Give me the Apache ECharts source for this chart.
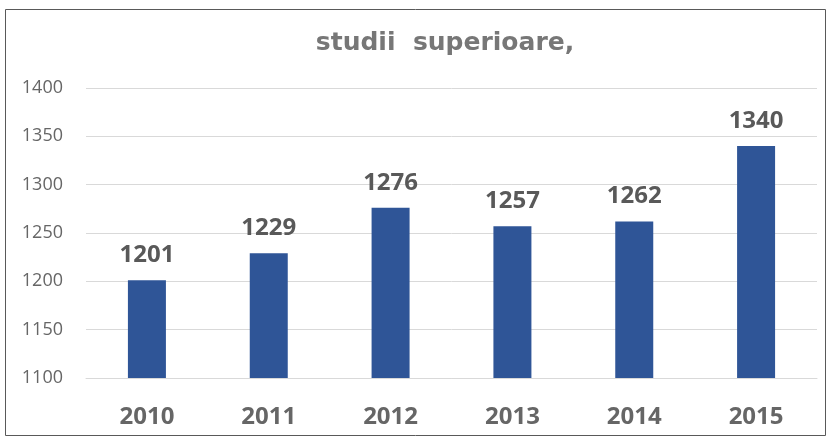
<!DOCTYPE html>
<html><head><meta charset="utf-8">
<script src="https://cdn.jsdelivr.net/npm/echarts@6/dist/echarts.min.js"></script>
<style>html,body{margin:0;padding:0;background:#fff}#c{width:831px;height:439px}</style>
</head><body><div id="c"></div>
<script>
const categories = ['2010','2011','2012','2013','2014','2015'];
const values = [1201,1229,1276,1257,1262,1340];
const yTicks = [1100,1150,1200,1250,1300,1350,1400];
const titleText = 'studii  superioare,';

const chart = echarts.init(document.getElementById('c'));
chart.setOption({
  animation:false,
  backgroundColor:'#fff',
  title:{text:titleText,left:440,top:26,textAlign:'center',
    textStyle:{fontFamily:'DejaVu Sans',fontWeight:'bold',fontSize:25,color:'#777'}},
  graphic:[{type:'rect',shape:{x:5.5,y:9.5,width:820,height:426},
    style:{fill:'none',stroke:'#595959',lineWidth:1},silent:true}],
  grid:{left:86,right:14,top:88,bottom:61,containLabel:false},
  xAxis:{type:'category',data:categories,
    axisLine:{show:true,lineStyle:{color:'#d9d9d9',width:1}},
    axisTick:{show:false},
    axisLabel:{margin:27,fontFamily:'Open Sans',fontWeight:'bold',fontSize:24,color:'#666'}},
  yAxis:{type:'value',min:yTicks[0],max:yTicks[yTicks.length-1],interval:50,
    axisLine:{show:false},axisTick:{show:false},
    splitLine:{lineStyle:{color:'#d9d9d9',width:1}},
    axisLabel:{margin:23,fontFamily:'Open Sans',fontSize:18,color:'#666',align:'right',
      formatter:v=>String(v)}},
  series:[{type:'bar',data:values,barWidth:38,
    itemStyle:{color:'#2F5597'},
    label:{show:true,position:'top',distance:13,fontFamily:'Open Sans',fontWeight:'bold',fontSize:24,color:'#595959'}}]
});
</script></body></html>
